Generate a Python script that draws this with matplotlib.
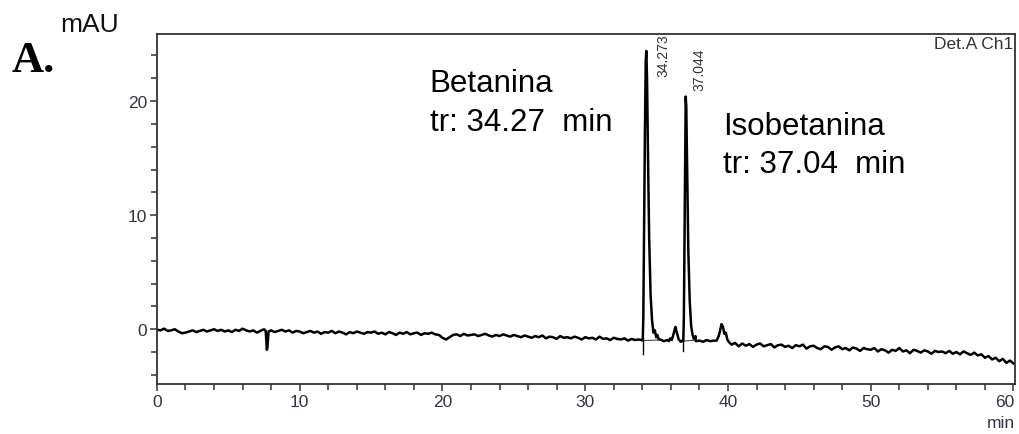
import numpy as np
import matplotlib
matplotlib.use("Agg")
import matplotlib.pyplot as plt
from matplotlib.transforms import ScaledTranslation

# ---------------- data ----------------
# baseline detector signal (mAU), sampled every 0.25 min from 0 to 60 min
baseline_step_min = 0.25
baseline_mau = [
    -0.05, -0.1, 0.05, -0.15, -0.1, 0.0, -0.2, -0.35, -0.3, -0.2, -0.1, -0.25, -0.15, -0.05, -0.2, -0.1, 0.0, -0.15, -0.05, -0.2,
    -0.1, -0.25, -0.05, -0.15, 0.05, -0.1, -0.2, -0.1, -0.3, -0.15, 0.0, -0.2, -0.1, -0.25, -0.15, -0.05, -0.2, -0.1, -0.3, -0.15,
    -0.2, -0.35, -0.25, -0.15, -0.3, -0.2, -0.4, -0.25, -0.3, -0.15, -0.35, -0.2, -0.3, -0.45, -0.25, -0.35, -0.2, -0.3, -0.4, -0.25,
    -0.3, -0.2, -0.4, -0.3, -0.45, -0.25, -0.35, -0.5, -0.3, -0.4, -0.25, -0.45, -0.35, -0.3, -0.5, -0.35, -0.4, -0.3, -0.45, -0.5,
    -0.75, -0.9, -0.7, -0.5, -0.45, -0.6, -0.4, -0.55, -0.5, -0.45, -0.6, -0.5, -0.4, -0.55, -0.65, -0.5, -0.6, -0.45, -0.55, -0.65,
    -0.5, -0.6, -0.7, -0.55, -0.65, -0.75, -0.6, -0.7, -0.55, -0.8, -0.65, -0.7, -0.85, -0.6, -0.75, -0.7, -0.8, -0.65, -0.75, -0.9,
    -0.7, -0.8, -0.75, -0.9, -0.65, -0.85, -0.8, -0.95, -0.75, -0.85, -0.9, -0.8, -1.0, -0.85, -0.95, -0.9, -1.0, -0.9, -1.05, -0.95,
    -1.0, -0.9, -1.05, -0.95, -1.1, -0.9, -1.0, -1.05, -0.95, -1.0, -0.9, -1.05, -1.0, -1.1, -0.95, -1.05, -1.0, -0.95, -1.1, -1.0,
    -1.15, -1.35, -1.2, -1.5, -1.25, -1.45, -1.3, -1.55, -1.35, -1.25, -1.5, -1.4, -1.3, -1.6, -1.4, -1.35, -1.55, -1.45, -1.65, -1.4,
    -1.5, -1.35, -1.7, -1.5, -1.45, -1.65, -1.75, -1.5, -1.55, -1.8, -1.6, -1.5, -1.75, -1.65, -1.85, -1.6, -1.7, -1.9, -1.65, -1.75,
    -1.8, -1.65, -1.95, -1.75, -1.85, -2.05, -1.8, -1.9, -1.65, -1.95, -1.85, -2.1, -1.8, -1.9, -2.05, -1.85, -1.95, -2.15, -1.9, -2.0,
    -1.95, -2.1, -1.9, -2.15, -2.0, -2.2, -1.95, -2.1, -2.25, -2.05, -2.3, -2.2, -2.5, -2.35, -2.65, -2.5, -2.8, -2.6, -2.95, -2.75,
    -3.0,
]

# explicit features (time in min, signal in mAU)
dip_t = [7.62, 7.70, 7.74, 7.82]
dip_v = [-0.15, -1.8, -1.6, -0.2]

peak1_t = [33.95, 34.03, 34.07, 34.12, 34.18, 34.24, 34.28, 34.33, 34.40, 34.48, 34.58, 34.68, 34.78, 34.88, 34.97, 35.05, 35.15]
peak1_v = [-0.95, -1.0, 1.0, 8.0, 17.0, 23.5, 24.4, 22.0, 15.0, 8.0, 3.0, 0.8, -0.3, -0.1, -0.7, -0.5, -0.9]

small1_t = [35.85, 35.95, 36.05, 36.15, 36.25, 36.32, 36.42, 36.55, 36.7]
small1_v = [-1.05, -0.8, -0.95, -0.6, -0.1, 0.2, -0.3, -0.9, -1.1]

peak2_t = [36.80, 36.87, 36.91, 36.95, 37.00, 37.04, 37.08, 37.14, 37.22, 37.32, 37.42, 37.52, 37.62, 37.72]
peak2_v = [-1.0, -1.05, 1.0, 7.0, 15.0, 20.4, 19.5, 14.0, 7.0, 2.5, 0.3, -0.5, -0.9, -0.6]

small2_t = [39.2, 39.35, 39.45, 39.55, 39.65, 39.75, 39.85, 39.95, 40.05]
small2_v = [-1.0, -0.6, -0.1, 0.45, 0.2, -0.4, -0.3, -0.9, -1.1]

peak_labels = ["34.273", "37.044"]
peak_label_x = [35.5, 38.0]
peak_label_y = [22.2, 21.0]

# integration baselines / markers
integ_t = [[34.03, 35.1], [36.87, 37.7]]
integ_v = [[-1.0, -0.95], [-1.05, -0.95]]
mark_t = [34.03, 36.87]
mark_lo = [-2.2, -1.9]
mark_hi = [-0.8, -0.85]

# ---------------- build trace ----------------
bt = np.arange(len(baseline_mau)) * baseline_step_min
bv = np.array(baseline_mau)
feats = [(dip_t, dip_v), (peak1_t, peak1_v), (small1_t, small1_v),
         (peak2_t, peak2_v), (small2_t, small2_v)]
keep = np.ones(len(bt), bool)
for ft, fv in feats:
    keep &= ~((bt >= min(ft)) & (bt <= max(ft)))
t_all = list(bt[keep])
v_all = list(bv[keep])
for ft, fv in feats:
    t_all += ft
    v_all += fv
order = np.argsort(t_all)
t_all = np.array(t_all)[order]
v_all = np.array(v_all)[order]

# ---------------- plot ----------------
plt.rcParams['font.family'] = ['Liberation Sans', 'DejaVu Sans']
fig = plt.figure(figsize=(10.19, 4.35), dpi=100)
ax = fig.add_axes([0.154, 0.115, 0.842, 0.805])

ax.plot(t_all, v_all, color='black', lw=1.8, solid_joinstyle='round')
for it, iv in zip(integ_t, integ_v):
    ax.plot(it, iv, color='#444444', lw=0.8)
for mt, lo, hi in zip(mark_t, mark_lo, mark_hi):
    ax.plot([mt, mt], [lo, hi], color='black', lw=1.0)

ax.set_xlim(0, 60.1)
ax.set_ylim(-4.8, 25.9)
ax.set_xticks([0, 10, 20, 30, 40, 50, 60])
ax.set_xticks(np.arange(0, 61, 2), minor=True)
ax.set_yticks([0, 10, 20])
ax.set_yticks(np.arange(-4, 26, 2), minor=True)

axis_color = '#333333'
for sp in ax.spines.values():
    sp.set_color(axis_color)
    sp.set_linewidth(1.3)
ax.tick_params(which='both', direction='out', color=axis_color,
               labelsize=12.5, labelcolor='#333344', width=1.1,
               top=False, right=False, pad=2)
ax.tick_params(which='major', length=5)
ax.tick_params(which='minor', length=4)

fig.canvas.draw()
last = ax.get_xticklabels()[-1]
last.set_transform(last.get_transform() + ScaledTranslation(-9 / 100, 0, fig.dpi_scale_trans))

for lbl, x, y in zip(peak_labels, peak_label_x, peak_label_y):
    ax.text(x, y, lbl, rotation=90, ha='center', va='bottom',
            fontsize=10, color='#333333')

ax.text(0.998, 0.995, "Det.A Ch1", transform=ax.transAxes, ha='right', va='top',
        fontsize=12.5, color='#333333')

fs_big = 22.5
ax.text(19.1, 20.9, "Betanina", fontsize=fs_big, ha='left', va='baseline')
ax.text(19.1, 17.45, "tr: 34.27  min", fontsize=fs_big, ha='left', va='baseline')
ax.text(39.65, 17.1, "Isobetanina", fontsize=fs_big, ha='left', va='baseline')
ax.text(39.65, 13.8, "tr: 37.04  min", fontsize=fs_big, ha='left', va='baseline')

fig.text(60 / 1019, 1 - 25 / 435, "mAU", fontsize=19,
         ha='left', va='center', color='#111111')
fig.text(12 / 1019, 1 - 72 / 435, "A.", fontsize=32, family='Liberation Serif',
         weight='bold', ha='left', va='baseline')
fig.text(1015 / 1019, 1 - 428 / 435, "min", fontsize=12.5,
         ha='right', va='baseline', color='#333344')

fig.savefig("out.png", dpi=100)
